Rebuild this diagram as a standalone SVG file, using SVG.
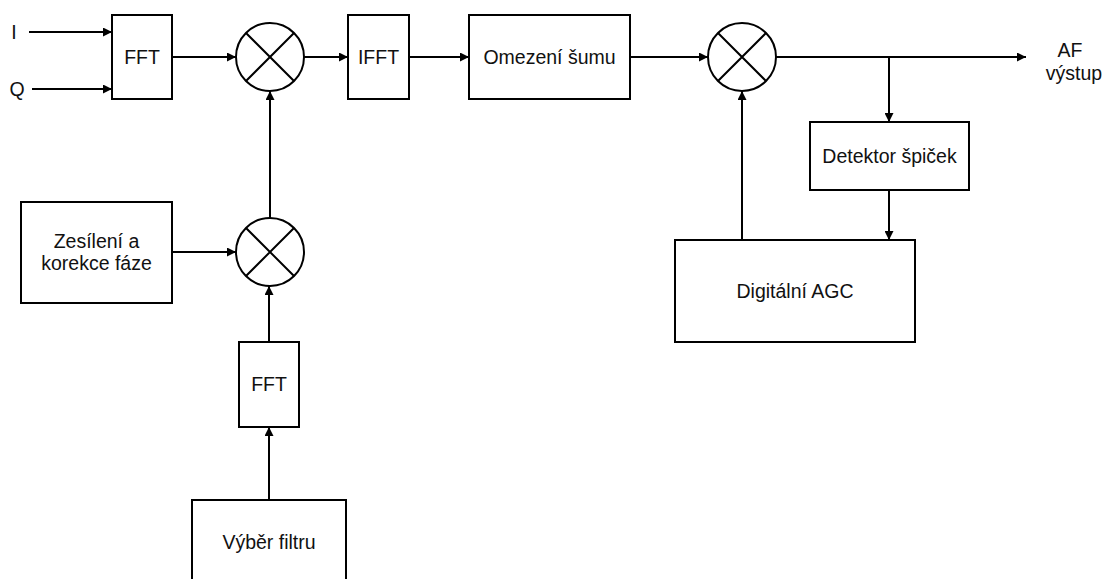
<svg xmlns="http://www.w3.org/2000/svg" width="1106" height="579" viewBox="0 0 1106 579">
<defs>
<marker id="arr" viewBox="0 0 10 10" refX="10" refY="5" markerWidth="11" markerHeight="9" markerUnits="userSpaceOnUse" orient="auto">
<path d="M0,0 L10,5 L0,10 z" fill="#000"/>
</marker>
<g id="mix">
<circle cx="0" cy="0" r="34" fill="#fff" stroke="#000" stroke-width="2"/>
<path d="M-24,-24 L24,24 M24,-24 L-24,24" stroke="#000" stroke-width="2"/>
</g>
</defs>
<style>
.box{fill:#fff;stroke:#000;stroke-width:2}
.t{font-family:"Liberation Sans",Arial,sans-serif;font-size:19.5px;fill:#111;text-anchor:middle}
.c{stroke:#000;stroke-width:2;fill:none}
.a{marker-end:url(#arr)}
</style>
<rect width="1106" height="579" fill="#fff"/>
<g id="connectors">
<path class="c a" d="M29,32 H112"/>
<path class="c a" d="M32,89 H112"/>
<path class="c a" d="M172,57 H236"/>
<path class="c a" d="M304,57 H348"/>
<path class="c a" d="M409,57 H469"/>
<path class="c a" d="M630,57 H708"/>
<path class="c a" d="M776,57 H1026"/>
<path class="c a" d="M889,57 V122"/>
<path class="c a" d="M889,190 V240"/>
<path class="c a" d="M742,240 V91"/>
<path class="c a" d="M270,218 V91"/>
<path class="c a" d="M172,252 H236"/>
<path class="c a" d="M269,342 V286"/>
<path class="c a" d="M269,500 V427"/>
</g>
<g id="label-I"><text class="t" x="14" y="39">I</text></g>
<g id="label-Q"><text class="t" x="17" y="96">Q</text></g>
<g id="fft1"><rect class="box" x="112" y="15" width="60" height="84"/><text class="t" x="142" y="64">FFT</text></g>
<g id="mixer1"><use href="#mix" x="270" y="57"/></g>
<g id="ifft"><rect class="box" x="348" y="15" width="61" height="84"/><text class="t" x="378.5" y="64">IFFT</text></g>
<g id="omezeni"><rect class="box" x="469" y="15" width="161" height="84"/><text class="t" x="549.5" y="64">Omezení šumu</text></g>
<g id="mixer2"><use href="#mix" x="742" y="57"/></g>
<g id="af-out"><text class="t" x="1070" y="57">AF</text><text class="t" x="1074" y="80">výstup</text></g>
<g id="detektor"><rect class="box" x="810" y="122" width="159" height="68"/><text class="t" x="889.5" y="163">Detektor špiček</text></g>
<g id="agc"><rect class="box" x="675" y="240" width="240" height="102"/><text class="t" x="795" y="298">Digitální AGC</text></g>
<g id="zesileni"><rect class="box" x="21" y="202" width="151" height="101"/><text class="t" x="96.5" y="248">Zesílení a</text><text class="t" x="96.5" y="270">korekce fáze</text></g>
<g id="mixer3"><use href="#mix" x="270" y="252"/></g>
<g id="fft2"><rect class="box" x="239" y="342" width="60" height="85"/><text class="t" x="269" y="391">FFT</text></g>
<g id="vyber"><rect class="box" x="192" y="500" width="154" height="110"/><text class="t" x="269" y="549">Výběr filtru</text></g>
</svg>
